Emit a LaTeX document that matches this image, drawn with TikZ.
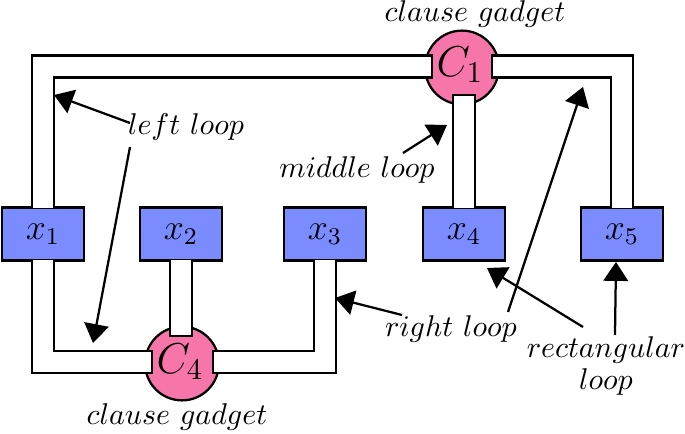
\documentclass[tikz,border=0pt]{standalone}
\usetikzlibrary{arrows.meta}
\definecolor{gpink}{RGB}{246,118,170}
\definecolor{gblue}{RGB}{122,140,255}
\begin{document}
\begin{tikzpicture}[x=0.3333pt,y=-0.3333pt,
  chan/.style={draw=black, double=white, line width=0.75pt, double distance=6.58pt, line join=miter},
  endcap/.style={line width=0.75pt, line cap=rect},
  vbox/.style={draw, fill=gblue, line width=0.75pt, minimum width=27.4pt, minimum height=17.6pt, inner sep=0pt, font=\large},
  gadget/.style={circle, draw, fill=gpink, line width=0.75pt, minimum size=24.6pt, inner sep=0pt, font=\Large},
  lab/.style={inner sep=0pt, anchor=base},
  arr/.style={-{Triangle[length=6.3pt,width=8.2pt]}, line width=0.75pt}]
\useasboundingbox (0,0) rectangle (685,434);

% variable boxes
\node[vbox] (x1) at (43,234) {$x_1$};
\node[vbox] (x2) at (181,234) {$x_2$};
\node[vbox] (x3) at (325,234) {$x_3$};
\node[vbox] (x4) at (464,234) {$x_4$};
\node[vbox] (x5) at (622,234) {$x_5$};

% clause gadgets
\node[gadget] (C1) at (462,67.5) {};
\node[gadget] (C4) at (182,363.5) {};

% channel ends inside the gadgets
\coordinate (c1w) at (432,66.5);
\coordinate (c1e) at (492,66.5);
\coordinate (c1s) at (464,95);
\coordinate (c4w) at (152,362);
\coordinate (c4e) at (213,362);
\coordinate (c4n) at (181,336);

% loops
\draw[chan] ([yshift=-0.4pt]x1.north) |- (c1w);
\draw[chan] (c1e) -| ([yshift=-0.4pt]x5.north);
\draw[chan] (c1s) -- ([yshift=-0.4pt]x4.north);
\draw[chan] ([yshift=0.4pt]x1.south) |- (c4w);
\draw[chan] ([yshift=0.4pt]x3.south) |- (c4e);
\draw[chan] ([yshift=0.4pt]x2.south) -- (c4n);

% closing lines of the channel ends
\draw[endcap] ([yshift=3.67pt]c1w) -- ([yshift=-3.67pt]c1w);
\draw[endcap] ([yshift=3.67pt]c1e) -- ([yshift=-3.67pt]c1e);
\draw[endcap] ([xshift=-3.67pt]c1s) -- ([xshift=3.67pt]c1s);
\draw[endcap] ([yshift=3.67pt]c4w) -- ([yshift=-3.67pt]c4w);
\draw[endcap] ([yshift=3.67pt]c4e) -- ([yshift=-3.67pt]c4e);
\draw[endcap] ([xshift=-3.67pt]c4n) -- ([xshift=3.67pt]c4n);

% gadget labels
\node[font=\Large, inner sep=0pt] (C1t) at (460,65) {$C_1$};
\node[font=\Large, inner sep=0pt] (C4t) at (180,362) {$C_4$};

% text labels
\node[lab] (cgtop) at (475,22) {$clause\ gadget$};
\node[lab] (cgbot) at (177,425) {$clause\ gadget$};
\node[lab] (ll) at (186,135) {$left\ loop$};
\node[lab] (ml) at (357,178) {$middle\ loop$};
\node[lab] (rl) at (451,337) {$right\ loop$};
\node[inner sep=0pt, align=center] (rect) at (606,366) {$rectangular$\\[-1.5pt]$loop$};

% arrow ends
\coordinate (a1s) at (130,123); \coordinate (a1t) at (54,95);
\coordinate (a2s) at (130,147); \coordinate (a2t) at (93,343);
\coordinate (a3s) at (403,153); \coordinate (a3t) at (447,125);
\coordinate (a4s) at (402,315); \coordinate (a4t) at (335,298);
\coordinate (a5s) at (508,312); \coordinate (a5t) at (583,87);
\coordinate (a6s) at (583,327); \coordinate (a6t) at (487,268);
\coordinate (a7s) at (615,335); \coordinate (a7t) at (616,262);

\draw[arr] (a1s) -- (a1t);
\draw[arr] (a2s) -- (a2t);
\draw[arr] (a3s) -- (a3t);
\draw[arr] (a4s) -- (a4t);
\draw[arr] (a5s) -- (a5t);
\draw[arr] (a6s) -- (a6t);
\draw[arr] (a7s) -- (a7t);
\end{tikzpicture}
\end{document}
